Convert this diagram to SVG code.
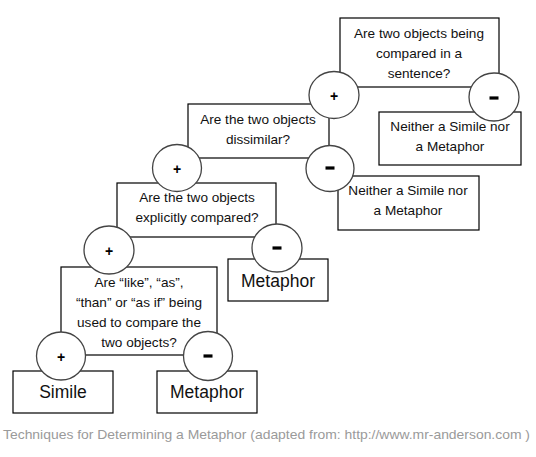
<svg xmlns="http://www.w3.org/2000/svg" width="536" height="457" viewBox="0 0 536 457">
<style>
.box{fill:#fff;stroke:#000;stroke-width:1.2}
.c{fill:#fff;stroke:#444;stroke-width:1.3}
.t{font-family:"Liberation Sans",Arial,sans-serif;font-size:13.6px;fill:#111;text-anchor:middle}
.big{font-family:"Liberation Sans",Arial,sans-serif;font-size:17.5px;fill:#111;text-anchor:middle}
.p{font-family:"Liberation Sans",Arial,sans-serif;font-weight:bold;font-size:14px;fill:#000;text-anchor:middle}
.m{fill:#000}
.cap{font-family:"Liberation Sans",Arial,sans-serif;font-size:13px;fill:#9a9a9a}
</style>
<defs><rect id="dash" class="m" x="-4.5" y="-1.6" width="9" height="3.2"/></defs>
<rect width="536" height="457" fill="#fff"/>
<g id="connectors"></g>
<g id="q1"><rect class="box" x="340" y="18" width="159" height="69"/>
<text class="t" x="419" y="38">Are two objects being</text>
<text class="t" x="419" y="58">compared in a</text>
<text class="t" x="419" y="78">sentence?</text></g>
<g id="n1"><rect class="box" x="379" y="112" width="142" height="53"/>
<text class="t" x="450" y="131">Neither a Simile nor</text>
<text class="t" x="450" y="151">a Metaphor</text></g>
<g id="q2"><rect class="box" x="188" y="104" width="141" height="54"/>
<text class="t" x="258" y="124">Are the two objects</text>
<text class="t" x="258" y="144">dissimilar?</text></g>
<g id="n2"><rect class="box" x="338" y="176" width="141" height="54"/>
<text class="t" x="408" y="195">Neither a Simile nor</text>
<text class="t" x="408" y="215">a Metaphor</text></g>
<g id="q3"><rect class="box" x="117" y="183" width="159" height="54"/>
<text class="t" x="197" y="202">Are the two objects</text>
<text class="t" x="197" y="222">explicitly compared?</text></g>
<g id="m1"><rect class="box" x="228" y="259" width="100" height="42"/>
<text class="big" x="278" y="287">Metaphor</text></g>
<g id="q4"><rect class="box" x="61" y="267" width="156" height="88"/>
<text class="t" x="139" y="287">Are “like”, “as”,</text>
<text class="t" x="139" y="307">“than” or “as if” being</text>
<text class="t" x="139" y="327">used to compare the</text>
<text class="t" x="139" y="347">two objects?</text></g>
<g id="simile"><rect class="box" x="13" y="371" width="100" height="42"/>
<text class="big" x="63" y="398">Simile</text></g>
<g id="m2"><rect class="box" x="157" y="371" width="100" height="42"/>
<text class="big" x="207" y="398">Metaphor</text></g>
<g id="q1plus"><ellipse class="c" cx="334" cy="95" rx="25" ry="23.5"/><text class="p" x="334" y="101">+</text></g>
<g id="q1minus"><ellipse class="c" cx="494" cy="97" rx="25" ry="24"/><use href="#dash" x="494" y="98"/></g>
<g id="q2plus"><ellipse class="c" cx="177" cy="168" rx="24.5" ry="23.5"/><text class="p" x="177" y="174">+</text></g>
<g id="q2minus"><ellipse class="c" cx="330" cy="168.5" rx="24" ry="23"/><use href="#dash" x="330" y="168"/></g>
<g id="q3plus"><ellipse class="c" cx="109" cy="250" rx="25" ry="24"/><text class="p" x="109" y="256">+</text></g>
<g id="q3minus"><ellipse class="c" cx="277" cy="248" rx="25" ry="24"/><use href="#dash" x="277" y="248"/></g>
<g id="q4plus"><ellipse class="c" cx="61" cy="356" rx="24.5" ry="24"/><text class="p" x="61" y="362">+</text></g>
<g id="q4minus"><ellipse class="c" cx="208" cy="356" rx="24.5" ry="24.5"/><use href="#dash" x="208" y="356"/></g>
<text class="cap" x="3" y="439" textLength="527" lengthAdjust="spacingAndGlyphs">Techniques for Determining a Metaphor (adapted from: http://www.mr-anderson.com )</text>
</svg>
